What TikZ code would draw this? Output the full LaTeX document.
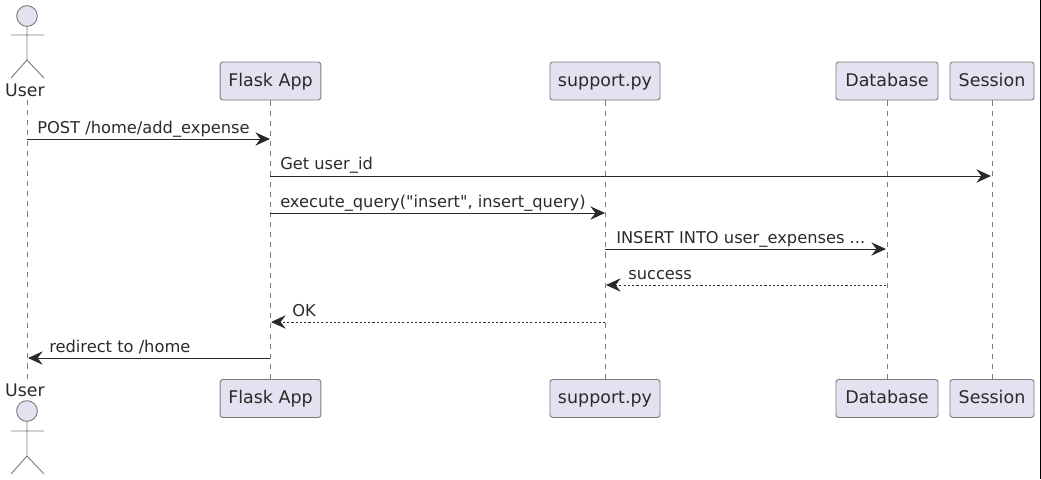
\documentclass[tikz,border=0pt]{standalone}
\usepackage{fontspec}
\setmainfont{DejaVu Sans}[Ligatures=TeXOff]
\definecolor{seqfill}{HTML}{E2E2F0}
\definecolor{seqline}{HTML}{7C7C7C}
\definecolor{seqink}{HTML}{2A2A2A}
\usepackage{tikz}
\usetikzlibrary{arrows.meta, backgrounds}

\begin{document}
\begin{tikzpicture}[x=0.75pt, y=-0.75pt,
  part/.style={rounded corners=2pt, minimum height=28.5pt, draw=seqline, fill=seqfill,
               line width=0.7pt, font=\fontsize{13.1}{15}\selectfont, text=seqink, inner sep=0pt,
               text height=10.6pt, text depth=2.4pt},
  who/.style={font=\fontsize{13}{15}\selectfont, text=seqink, inner sep=0pt},
  head/.style={circle, minimum size=15.5pt, inner sep=0pt, draw=seqline, fill=seqfill, line width=0.7pt},
  body/.style={draw=seqline, line width=0.7pt},
  life/.style={draw=seqline, line width=0.6pt, dash pattern=on 3.8pt off 3.8pt},
  msg/.style={draw=seqink, line width=0.75pt, -{Stealth[length=11pt, width=10pt, inset=3.8pt]}},
  ret/.style={msg, line width=0.6pt, dash pattern=on 1.6pt off 1.6pt},
  lbl/.style={font=\fontsize{12.2}{14}\selectfont, text=seqink, anchor=base west, inner sep=0pt},
]
  \useasboundingbox (0,0) rectangle (1041,479);
  \draw[black, line width=0.75pt] (1040.5,0) -- (1040.5,479);

  % Participants, top
  \node[head] (userHead1) at (27,16) {};
  \node[who] (userName1) at (25,90) {User};
  \node[part, minimum width=75.5pt] (flask1) at (270.5,81) {Flask App};
  \node[part, minimum width=82.5pt] (support1) at (605,81) {support.py};
  \node[part, minimum width=76.5pt] (database1) at (887,81) {Database};
  \node[part, minimum width=63pt] (session1) at (992,81) {Session};

  % Participants, bottom
  \node[who] (userName2) at (25,390) {User};
  \node[head] (userHead2) at (27,411) {};
  \node[part, minimum width=75.5pt] (flask2) at (270.5,398.5) {Flask App};
  \node[part, minimum width=82.5pt] (support2) at (605,398.5) {support.py};
  \node[part, minimum width=76.5pt] (database2) at (887,398.5) {Database};
  \node[part, minimum width=63pt] (session2) at (992,398.5) {Session};

  % Stick figures
  \coordinate (hip1) at (27,60);
  \coordinate (hip2) at (27,456);
  \draw[body] (userHead1) -- (hip1) -- (11,78) (hip1) -- (44,78) (11,35) -- (44,35);
  \draw[body] (userHead2) -- (hip2) -- (11,474) (hip2) -- (44,474) (11,431) -- (44,431);

  % Lifelines
  \begin{scope}[on background layer]
    \coordinate (userTop) at (27,100);
    \coordinate (userEnd) at (27,380);
    \draw[life] (userTop) -- (userEnd);
    \draw[life] (flask1) -- (flask2);
    \draw[life] (support1) -- (support2);
    \draw[life] (database1) -- (database2);
    \draw[life] (session1) -- (session2);
  \end{scope}

  % Messages
  \coordinate (userA) at (27,139);   \coordinate (flaskA) at (270,139);
  \coordinate (flaskB) at (270,176); \coordinate (sessionB) at (991,176);
  \coordinate (flaskC) at (270,213); \coordinate (supportC) at (605,213);
  \coordinate (supportD) at (605,249); \coordinate (databaseD) at (886,249);
  \coordinate (databaseE) at (886,285); \coordinate (supportE) at (606,285);
  \coordinate (supportF) at (605,322); \coordinate (flaskF) at (271,322);
  \coordinate (flaskG) at (270,358); \coordinate (userG) at (28,358);
  \draw[msg] (userA) -- (flaskA);
  \draw[msg] (flaskB) -- (sessionB);
  \draw[msg] (flaskC) -- (supportC);
  \draw[msg] (supportD) -- (databaseD);
  \draw[ret] (databaseE) -- (supportE);
  \draw[ret] (supportF) -- (flaskF);
  \draw[msg] (flaskG) -- (userG);

  % Labels
  \node[lbl] (lblA) at (37,133) {POST /home/add\_expense};
  \node[lbl] (lblB) at (280,169) {Get user\_id};
  \node[lbl] (lblC) at (280,207) {execute\_query("insert", insert\_query)};
  \node[lbl] (lblD) at (616,243) {INSERT INTO user\_expenses ...};
  \node[lbl] (lblE) at (628,279) {success};
  \node[lbl] (lblF) at (292,316) {OK};
  \node[lbl] (lblG) at (49,352) {redirect to /home};
\end{tikzpicture}
\end{document}
